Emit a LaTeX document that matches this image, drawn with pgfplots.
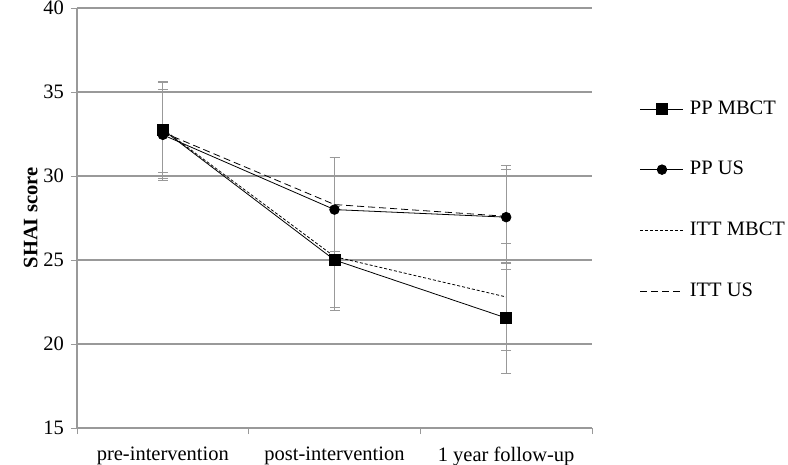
\documentclass[border=0pt]{standalone}
\usepackage{pgfplots}
\pgfplotsset{compat=1.18}
\usepackage{fontspec}
\setmainfont{Liberation Serif}
\begin{document}
\fontsize{20.5bp}{24bp}\selectfont
\begin{tikzpicture}
\useasboundingbox (-77bp,-37bp) rectangle (711bp,428bp);
\begin{axis}[
  at={(0,0)}, anchor=south west,
  scale only axis, width=515bp, height=420bp,
  xmin=-0.5, xmax=2.5, ymin=15, ymax=40,
  ytick={15,20,...,40},
  xtick={0,1,2},
  xticklabels={pre-intervention,post-intervention,1 year follow-up},
  minor xtick={-0.5,0.5,1.5,2.5},
  major x tick style={draw=none},
  minor x tick style={gray!80, line width=0.8pt},
  minor tick length=6bp,
  major tick length=6bp,
  tick align=outside,
  y tick style={gray!80, line width=0.8pt},
  ymajorgrids, grid style={gray!80, line width=1.1pt},
  axis x line*=bottom, axis y line*=left,
  axis line style={-, gray!80, line width=1.1pt},
  every outer x axis line/.append style={-},
  every outer y axis line/.append style={-},
  /pgf/number format/assume math mode=true,
  ticklabel style={font=\fontsize{20.5bp}{24bp}\selectfont},
  xticklabel style={yshift=-6bp},
  ylabel={\textbf{SHAI score}},
  ylabel style={font=\fontsize{20.5bp}{24bp}\selectfont, yshift=-8bp},
  legend style={draw=none, at={(1.093,0.787)}, anchor=north west,
    font=\fontsize{20.5bp}{24bp}\selectfont, row sep=38bp, inner sep=0pt,
    nodes={inner sep=3bp}},
  legend cell align=left,
  legend image code/.code={\draw[mark repeat=2,mark phase=2,#1] plot coordinates {(0bp,0bp) (21.5bp,0bp) (43bp,0bp)};},
  legend style={/tikz/every odd column/.append style={column sep=3bp}},
  error bars/y dir=both, error bars/y explicit,
  error bars/error bar style={solid, gray!80, line width=0.7pt},
  error bars/error mark options={rotate=90, mark size=5bp, gray!80, line width=0.7pt, solid},
]
\addplot[black, line width=0.8pt, mark=square*, mark size=5.5bp, mark options={solid}] coordinates {
  (0,32.75) +- (0,2.9)
  (1,25.0) +- (0,3.0)
  (2,21.55) +- (0,3.3)
};
\addlegendentry{PP MBCT}
\addplot[black, line width=0.8pt, mark=*, mark size=4.8bp, mark options={solid}] coordinates {
  (0,32.45) +- (0,2.7)
  (1,28.0) +- (0,3.1)
  (2,27.55) +- (0,3.1)
};
\addlegendentry{PP US}
\addplot[black, line width=0.8pt, mark=none, dash pattern=on 3bp off 2bp] coordinates {
  (0,32.8) +- (0,2.8)
  (1,25.2) +- (0,3.0)
  (2,22.8) +- (0,3.2)
};
\addlegendentry{ITT MBCT}
\addplot[black, line width=0.8pt, mark=none, dash pattern=on 7bp off 4bp] coordinates {
  (0,32.6) +- (0,2.4)
  (1,28.3) +- (0,2.8)
  (2,27.6) +- (0,2.8)
};
\addlegendentry{ITT US}
\end{axis}
\end{tikzpicture}
\end{document}
